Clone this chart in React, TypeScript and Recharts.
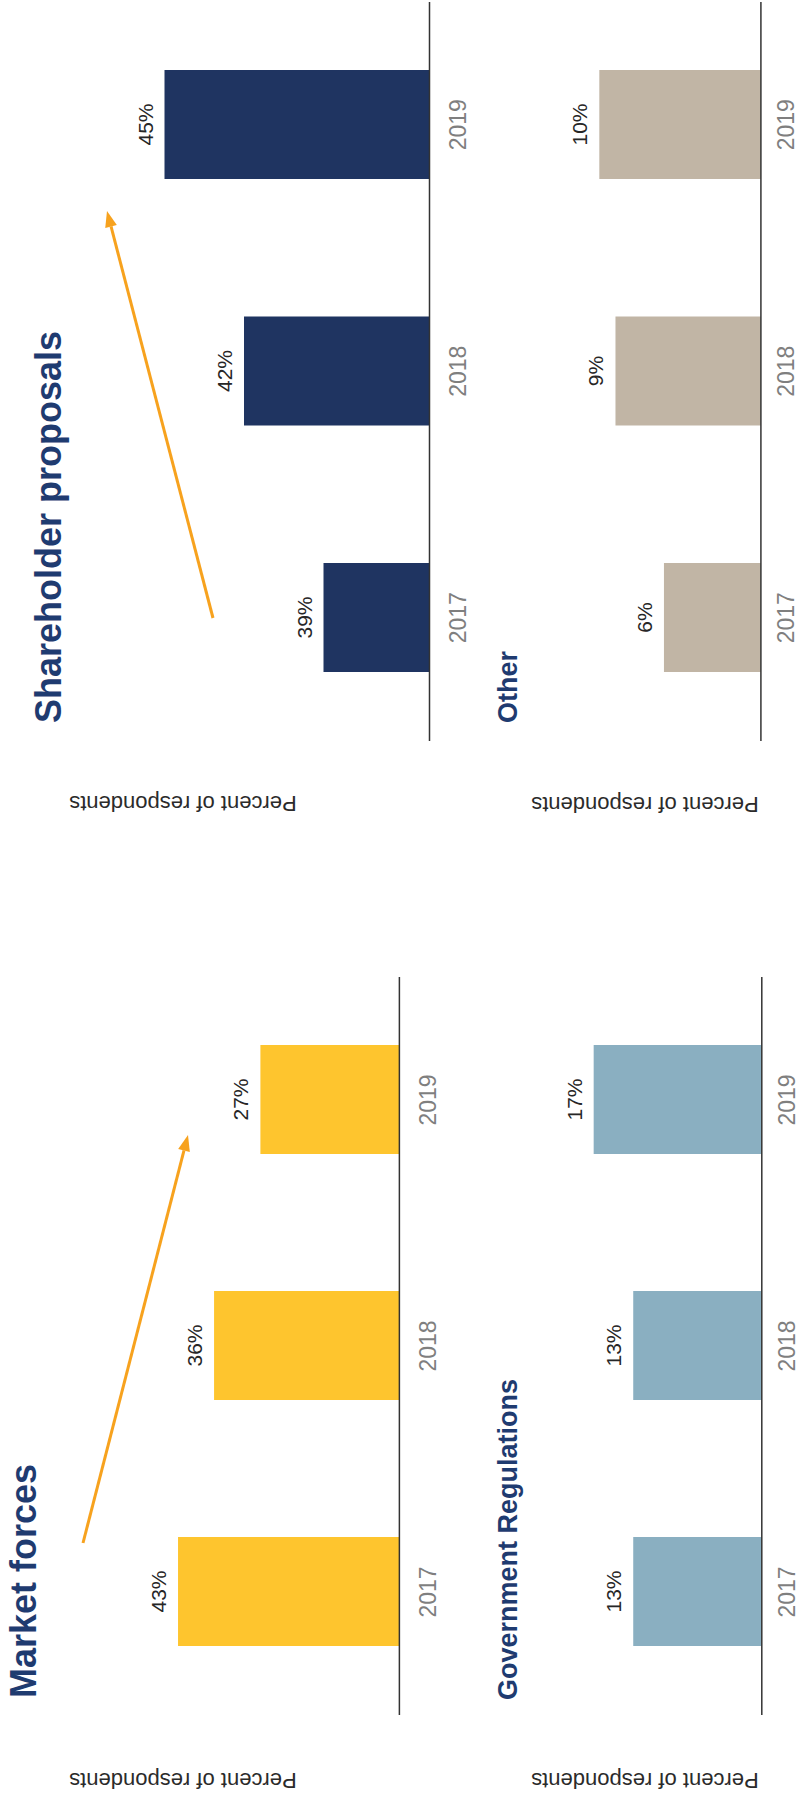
import React from "react";
import { BarChart, Bar, XAxis, YAxis, LabelList } from "recharts";

const years = ["2017", "2018", "2019"];
const marketForces = [43, 36, 27];
const governmentRegulations = [13, 13, 17];
const shareholderProposals = [39, 42, 45];
const otherReasons = [6, 9, 10];

const FONT = "'Liberation Sans', Arial, sans-serif";
const TITLE_COLOR = "#1F3B70";
const ARROW_COLOR = "#F7A21E";

// the original sheet is landscape (1799 x 802) and turned a quarter left
const LW = 1799;
const LH = 802;

interface PanelProps {
  values: number[];
  color: string;
  domain: [number, number];
  pxPerUnit: number;
  left: number;
  width: number;
  baseline: number;
  tickGap: number;
}

function Panel({ values, color, domain, pxPerUnit, left, width, baseline, tickGap }: PanelProps) {
  const data = years.map((year, i) => ({ year, value: values[i] }));
  const plotH = (domain[1] - domain[0]) * pxPerUnit;
  const top = 30;
  const axisH = 40;
  return (
    <div style={{ position: "absolute", left, top: baseline - plotH - top }}>
      <BarChart
        width={width}
        height={plotH + top + axisH}
        data={data}
        margin={{ top, right: 0, bottom: 0, left: 0 }}
      >
        <XAxis
          dataKey="year"
          height={axisH}
          tickLine={false}
          tickSize={0}
          tickMargin={tickGap}
          axisLine={{ stroke: "#333", strokeWidth: 1.5 }}
          tick={{ fill: "#7f7f7f", fontSize: 23, fontFamily: FONT }}
        />
        <YAxis hide type="number" domain={domain} allowDataOverflow />
        <Bar dataKey="value" fill={color} barSize={109} isAnimationActive={false}>
          <LabelList
            dataKey="value"
            position="top"
            offset={12}
            formatter={(v: number) => `${v}%`}
            style={{ fill: "#262626", fontSize: 21, fontFamily: FONT }}
          />
        </Bar>
      </BarChart>
    </div>
  );
}

function Arrow({ x1, y1, x2, y2 }: { x1: number; y1: number; x2: number; y2: number }) {
  const a = Math.atan2(y2 - y1, x2 - x1);
  const len = 16;
  const half = 6;
  const bx = x2 - len * Math.cos(a);
  const by = y2 - len * Math.sin(a);
  const px = -Math.sin(a) * half;
  const py = Math.cos(a) * half;
  return (
    <g>
      <line x1={x1} y1={y1} x2={bx} y2={by} stroke={ARROW_COLOR} strokeWidth={3} />
      <polygon
        points={`${x2},${y2} ${bx + px},${by + py} ${bx - px},${by - py}`}
        fill={ARROW_COLOR}
      />
    </g>
  );
}

function YTitle({ x, y }: { x: number; y: number }) {
  return (
    <text
      x={x}
      y={y}
      transform={`rotate(-90, ${x}, ${y})`}
      textAnchor="middle"
      fontSize={22}
      fill="#2b2b2b"
      fontFamily={FONT}
    >
      Percent of respondents
    </text>
  );
}

export default function App() {
  return (
    <div
      style={{
        position: "absolute",
        left: 0,
        top: 0,
        width: LH,
        height: LW,
        overflow: "hidden",
        background: "#fff",
      }}
    >
      <div
        style={{
          position: "absolute",
          left: 0,
          top: 0,
          width: LW,
          height: LH,
          transformOrigin: "0 0",
          transform: `translate(0px, ${LW}px) rotate(-90deg)`,
        }}
      >
        <Panel values={marketForces} color="#FEC52E" domain={[0, 50]} pxPerUnit={5.148} left={84} width={738} baseline={399} tickGap={20} />
        <Panel values={governmentRegulations} color="#8AAFC1" domain={[0, 20]} pxPerUnit={9.89} left={84} width={738} baseline={762} tickGap={17} />
        <Panel values={shareholderProposals} color="#1F3461" domain={[35, 46]} pxPerUnit={26.5} left={1057.5} width={739.5} baseline={429} tickGap={20} />
        <Panel values={otherReasons} color="#C1B5A5" domain={[0, 12]} pxPerUnit={16.16} left={1057.5} width={739.5} baseline={761} tickGap={17} />

        <svg
          width={LW}
          height={LH}
          style={{ position: "absolute", left: 0, top: 0, pointerEvents: "none" }}
        >
          <g fontFamily={FONT} fontWeight="bold" fill={TITLE_COLOR}>
            <text x={101} y={36} fontSize={36}>Market forces</text>
            <text x={1076} y={61} fontSize={36}>Shareholder proposals</text>
            <text x={99} y={517} fontSize={27}>Government Regulations</text>
            <text x={1076} y={517} fontSize={27}>Other</text>
          </g>
          <YTitle x={26} y={183} />
          <YTitle x={26} y={645} />
          <YTitle x={1003} y={183} />
          <YTitle x={1002} y={645} />
          <Arrow x1={256} y1={83} x2={664} y2={188} />
          <Arrow x1={1181} y1={213} x2={1588} y2={107} />
        </svg>
      </div>
    </div>
  );
}
